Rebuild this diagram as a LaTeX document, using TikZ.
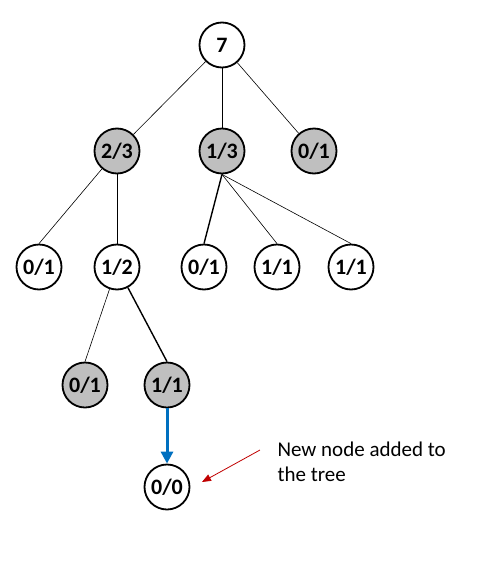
\documentclass[tikz,border=0pt]{standalone}
\usepackage{fontspec}
\setmainfont{Carlito}
\usetikzlibrary{arrows.meta}
\definecolor{nodegray}{HTML}{BFBFBF}
\definecolor{newblue}{HTML}{0070C0}
\definecolor{notered}{HTML}{C00000}
\begin{document}
\begin{tikzpicture}[x=1pt,y=-1pt,
  tnode/.style={circle,draw=black,line width=1.8pt,fill=white,minimum size=45pt,inner sep=0pt,
    font=\fontsize{22}{22}\selectfont\bfseries},
  visited/.style={tnode,fill=nodegray},
  thinedge/.style={draw=black,line width=0.6pt},
  midedge/.style={draw=black,line width=1pt},
  thickedge/.style={draw=black,line width=1.4pt}]
\useasboundingbox (0,0) rectangle (498,568);
% tree nodes
\node[tnode]   (root) at (222,45)  {7};
\node[visited] (a)    at (117,151) {2/3};
\node[visited] (b)    at (222,151) {1/3};
\node[visited] (c)    at (314,151) {0/1};
\node[tnode]   (a1)   at (39,267)  {0/1};
\node[tnode]   (a2)   at (117,267) {1/2};
\node[tnode]   (b1)   at (204,267) {0/1};
\node[tnode]   (b2)   at (277,267) {1/1};
\node[tnode]   (b3)   at (351,267) {1/1};
\node[visited] (d1)   at (85,385)  {0/1};
\node[visited] (d2)   at (167,385) {1/1};
\node[tnode]   (new)  at (167,487) {0/0};
% edges
\draw[thinedge]  (root) -- (a);
\draw[midedge]   (root) -- (b);
\draw[thinedge]  (root) -- (c);
\draw[thinedge]  (a) -- (a1.north);
\draw[midedge]   (a) -- (a2);
\draw[thickedge] (b.south) -- (b1.north);
\draw[thinedge]  (b.south) -- (b2.north);
\draw[thinedge]  (b.south) -- (b3.north);
\draw[thinedge]  (a2) -- (d1.north);
\draw[thickedge] (a2) -- (d2.north);
% expansion step
\draw[newblue,line width=3pt,-{Triangle[length=12pt,width=12pt]}] (d2) -- (new);
% annotation
\node[anchor=west,align=left,font=\fontsize{21}{25}\selectfont] (note) at (274,462)
  {New node added to\\the tree};
\coordinate (tail) at (260,450);
\coordinate (tip) at (202,482);
\draw[notered,line width=0.8pt,-{Triangle[length=9pt,width=7pt]}] (tail) -- (tip);
\end{tikzpicture}
\end{document}
